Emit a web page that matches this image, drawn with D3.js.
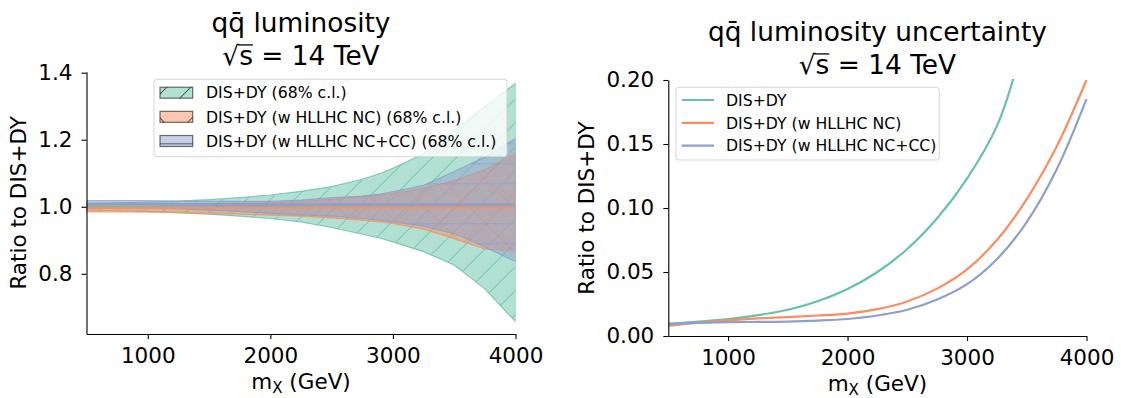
<!DOCTYPE html>
<html>
<head>
<meta charset="utf-8">
<script src="https://cdn.jsdelivr.net/npm/d3@7/dist/d3.min.js"></script>
<style>
  html, body { margin: 0; padding: 0; background: #fff; }
  svg text { font-family: "DejaVu Sans", sans-serif; fill: #000; }
</style>
</head>
<body>
<svg id="fig" width="1121" height="398"></svg>
<script>
// ---------- data ----------
// invariant mass grid (GeV) for the luminosity ratio bands
const massBand = [500, 750, 1000, 1250, 1500, 1750, 2000, 2250, 2500, 2750, 2900, 3000, 3250, 3500, 3750, 4000];

// DIS+DY 68% c.l. band, ratio to DIS+DY central
const disUpper = [1.010, 1.012, 1.014, 1.017, 1.021, 1.027, 1.035, 1.046, 1.060, 1.082, 1.100, 1.115, 1.158, 1.229, 1.299, 1.368];
const disLower = [0.990, 0.988, 0.986, 0.982, 0.978, 0.972, 0.965, 0.955, 0.938, 0.918, 0.906, 0.895, 0.866, 0.826, 0.755, 0.657];

// DIS+DY (w HLLHC NC)
const ncCentral = [0.996, 0.996, 0.997, 0.997, 0.997, 0.998, 0.998, 0.998, 0.998, 0.998, 0.998, 0.998, 0.998, 0.998, 0.998, 0.998];
const ncUpper   = [1.006, 1.007, 1.008, 1.009, 1.010, 1.011, 1.012, 1.015, 1.022, 1.030, 1.036, 1.040, 1.055, 1.078, 1.110, 1.160];
const ncLower   = [0.985, 0.985, 0.984, 0.983, 0.981, 0.978, 0.975, 0.972, 0.967, 0.960, 0.955, 0.950, 0.933, 0.905, 0.874, 0.868];

// DIS+DY (w HLLHC NC+CC)
const nccCentral = [1.008, 1.008, 1.008, 1.007, 1.007, 1.006, 1.006, 1.006, 1.005, 1.005, 1.005, 1.005, 1.005, 1.005, 1.005, 1.005];
const nccUpper   = [1.018, 1.018, 1.018, 1.017, 1.017, 1.016, 1.016, 1.020, 1.027, 1.032, 1.038, 1.045, 1.064, 1.105, 1.148, 1.204];
const nccLower   = [0.998, 0.997, 0.996, 0.994, 0.990, 0.986, 0.980, 0.976, 0.972, 0.965, 0.960, 0.955, 0.942, 0.920, 0.880, 0.836];

// relative luminosity uncertainty
const massUnc = [500, 750, 1000, 1250, 1500, 1750, 2000, 2250, 2500, 2750, 3000, 3250, 3500, 3750, 4000];
const massUncDis = [500, 750, 1000, 1250, 1500, 1750, 2000, 2250, 2500, 2750, 3000, 3250, 3400];
const uncDis = [0.0094, 0.0112, 0.0133, 0.0163, 0.0205, 0.0272, 0.0367, 0.0500, 0.0680, 0.0920, 0.1230, 0.1640, 0.2050];
const uncNC  = [0.0080, 0.0105, 0.0122, 0.0137, 0.0148, 0.0160, 0.0175, 0.0210, 0.0270, 0.0370, 0.0520, 0.0750, 0.1070, 0.1480, 0.2000];
const uncNCC = [0.0094, 0.0102, 0.0108, 0.0110, 0.0112, 0.0120, 0.0133, 0.0160, 0.0205, 0.0285, 0.0405, 0.0600, 0.0890, 0.1300, 0.1850];

const xTicks = [1000, 2000, 3000, 4000];
const yTicksRatio = [0.8, 1.0, 1.2, 1.4];
const yTicksUnc = [0.00, 0.05, 0.10, 0.15, 0.20];

const seriesLabelsBand = ["DIS+DY (68% c.l.)", "DIS+DY (w HLLHC NC) (68% c.l.)", "DIS+DY (w HLLHC NC+CC) (68% c.l.)"];
const seriesLabelsUnc = ["DIS+DY", "DIS+DY (w HLLHC NC)", "DIS+DY (w HLLHC NC+CC)"];
const colors = ["#66c2a5", "#fc8d62", "#8da0cb"];

// ---------- layout ----------
const svg = d3.select("#fig");
const TICK_FS = 21.5, LABEL_FS = 21.5, TITLE_FS = 26.4, LEG_FS = 15.7;

const L = { x0: 86.5, x1: 515.5, yTop: 71.7, yBot: 334 };
const R = { x0: 668.3, x1: 1086.5, yTop: 80, yBot: 336 };

const xL = d3.scaleLinear().domain([500, 4000]).range([L.x0, L.x1]);
const yL = d3.scaleLinear().domain([0.6203, 1.403]).range([L.yBot, L.yTop]);
const xR = d3.scaleLinear().domain([500, 4000]).range([R.x0, R.x1]);
const yR = d3.scaleLinear().domain([0, 0.2]).range([R.yBot, R.yTop]);

// ---------- hatch patterns ----------
const defs = svg.append("defs");
function diagPattern(id, size, color, opacity, both) {
  const p = defs.append("pattern").attr("id", id).attr("patternUnits", "userSpaceOnUse")
    .attr("width", size).attr("height", size).attr("y", 398 % size);
  const g = p.append("g").attr("stroke", color).attr("stroke-opacity", opacity).attr("stroke-width", 1.1);
  g.append("line").attr("x1", -1).attr("y1", size + 1).attr("x2", size + 1).attr("y2", -1);
  g.append("line").attr("x1", -1).attr("y1", 1).attr("x2", 1).attr("y2", -1);
  g.append("line").attr("x1", size - 1).attr("y1", size + 1).attr("x2", size + 1).attr("y2", size - 1);
  if (both) {
    g.append("line").attr("x1", -1).attr("y1", -1).attr("x2", size + 1).attr("y2", size + 1);
    g.append("line").attr("x1", size - 1).attr("y1", -1).attr("x2", size + 1).attr("y2", 1);
    g.append("line").attr("x1", -1).attr("y1", size - 1).attr("x2", 1).attr("y2", size + 1);
  }
}
function horizPattern(id, size, color, opacity) {
  const p = defs.append("pattern").attr("id", id).attr("patternUnits", "userSpaceOnUse")
    .attr("width", size).attr("height", size).attr("y", 3.3);
  p.append("line").attr("x1", 0).attr("x2", size).attr("y1", 0.5).attr("y2", 0.5)
    .attr("stroke", color).attr("stroke-opacity", opacity).attr("stroke-width", 1.1);
}
diagPattern("hatchDis", 24, colors[0], 0.75, false);
diagPattern("hatchNC", 44, colors[1], 0.75, true);
horizPattern("hatchNCC", 20, colors[2], 0.75);
diagPattern("hatchDisLeg", 24, "#000", 0.55, false);
diagPattern("hatchNCLeg", 44, "#000", 0.55, true);
horizPattern("hatchNCCLeg", 20, "#000", 0.55);

defs.append("clipPath").attr("id", "clipL").append("rect")
  .attr("x", L.x0).attr("y", L.yTop).attr("width", L.x1 - L.x0).attr("height", L.yBot - L.yTop);
defs.append("clipPath").attr("id", "clipR").append("rect")
  .attr("x", R.x0).attr("y", R.yTop - 1).attr("width", R.x1 - R.x0 + 2).attr("height", R.yBot - R.yTop + 1);

// ---------- left panel: ratio bands ----------
const gL = svg.append("g").attr("clip-path", "url(#clipL)");
const bands = [
  { up: disUpper, lo: disLower, hatch: "hatchDis", color: colors[0] },
  { up: ncUpper, lo: ncLower, hatch: "hatchNC", color: colors[1] },
  { up: nccUpper, lo: nccLower, hatch: "hatchNCC", color: colors[2] }
];
bands.forEach(b => {
  const pts = massBand.map((m, i) => ({ m, up: b.up[i], lo: b.lo[i] }));
  const area = d3.area().x(d => xL(d.m)).y0(d => yL(d.lo)).y1(d => yL(d.up));
  gL.append("path").datum(pts).attr("d", area).attr("fill", b.color).attr("fill-opacity", 0.5)
    .attr("stroke", b.color).attr("stroke-opacity", 0.8).attr("stroke-width", 1.2);
  gL.append("path").datum(pts).attr("d", area).attr("fill", `url(#${b.hatch})`);
});
const centralLine = d3.line().x(d => xL(d[0])).y(d => yL(d[1]));
gL.append("path").datum(massBand.map((m, i) => [m, 1.0]))
  .attr("d", centralLine).attr("fill", "none").attr("stroke", colors[0]).attr("stroke-width", 2);
gL.append("path").datum(massBand.map((m, i) => [m, nccCentral[i]]))
  .attr("d", centralLine).attr("fill", "none").attr("stroke", colors[2]).attr("stroke-width", 2.6);
gL.append("path").datum(massBand.map((m, i) => [m, ncCentral[i]]))
  .attr("d", centralLine).attr("fill", "none").attr("stroke", colors[1]).attr("stroke-width", 2);

// ---------- right panel: uncertainty curves ----------
const gR = svg.append("g").attr("clip-path", "url(#clipR)");
const uncLine = d3.line().curve(d3.curveCatmullRom.alpha(0.5)).x(d => xR(d[0])).y(d => yR(d[1]));
[
  { m: massUncDis, v: uncDis, c: colors[0] },
  { m: massUnc, v: uncNC, c: colors[1] },
  { m: massUnc, v: uncNCC, c: colors[2] }
].forEach(s => {
  gR.append("path").datum(s.m.map((m, i) => [m, s.v[i]])).attr("d", uncLine)
    .attr("fill", "none").attr("stroke", s.c).attr("stroke-width", 2.2);
});

// ---------- axes ----------
function styleAxis(g) {
  g.selectAll("path.domain").attr("stroke", "#000").attr("stroke-width", 1.1);
  g.selectAll(".tick line").attr("stroke", "#000").attr("stroke-width", 1.1);
  g.selectAll(".tick text").attr("font-family", "DejaVu Sans").attr("font-size", TICK_FS).attr("fill", "#000");
}
svg.append("g").attr("transform", `translate(0,${L.yBot})`)
  .call(d3.axisBottom(xL).tickValues(xTicks).tickFormat(d3.format("d")).tickSize(5).tickSizeOuter(0).tickPadding(9))
  .call(styleAxis);
svg.append("g").attr("transform", `translate(${L.x0},0)`)
  .call(d3.axisLeft(yL).tickValues(yTicksRatio).tickFormat(d3.format(".1f")).tickSize(5).tickSizeOuter(0).tickPadding(9))
  .call(styleAxis);
svg.append("g").attr("transform", `translate(0,${R.yBot})`)
  .call(d3.axisBottom(xR).tickValues(xTicks).tickFormat(d3.format("d")).tickSize(5).tickSizeOuter(0).tickPadding(9))
  .call(styleAxis);
svg.append("g").attr("transform", `translate(${R.x0},0)`)
  .call(d3.axisLeft(yR).tickValues(yTicksUnc).tickFormat(d3.format(".2f")).tickSize(5).tickSizeOuter(0).tickPadding(9))
  .call(styleAxis);

// axis labels
function xLabel(cx, y) {
  const t = svg.append("text").attr("x", cx).attr("y", y).attr("text-anchor", "middle").attr("font-size", LABEL_FS);
  t.append("tspan").text("m");
  t.append("tspan").attr("font-size", LABEL_FS * 0.7).attr("dy", 4).text("X");
  t.append("tspan").attr("dy", -4).text(" (GeV)");
}
xLabel((L.x0 + L.x1) / 2, 389);
xLabel((R.x0 + R.x1) / 2, 391);
svg.append("text").attr("transform", `translate(25.5,${(L.yTop + L.yBot) / 2}) rotate(-90)`)
  .attr("text-anchor", "middle").attr("font-size", LABEL_FS).text("Ratio to DIS+DY");
svg.append("text").attr("transform", `translate(593.5,${(R.yTop + R.yBot) / 2}) rotate(-90)`)
  .attr("text-anchor", "middle").attr("font-size", LABEL_FS).text("Ratio to DIS+DY");

// titles: "q q-bar ..." on the first line, "sqrt(s) = 14 TeV" on the second
function title(cx, y1, y2, head) {
  const t1 = svg.append("text").attr("x", cx).attr("y", y1).attr("text-anchor", "middle").attr("font-size", TITLE_FS);
  t1.append("tspan").text("q");
  t1.append("tspan").text("q\u0304");
  t1.append("tspan").text(head);
  const t2 = svg.append("text").attr("x", cx).attr("y", y2).attr("text-anchor", "middle").attr("font-size", TITLE_FS);
  t2.append("tspan").text("\u221A");
  t2.append("tspan").text("s");
  t2.append("tspan").text(" = 14 TeV");
  const node = t2.node();
  const full = node.getComputedTextLength();
  const left = cx - full / 2;
  const rootW = node.getSubStringLength(0, 1);
  const sW = node.getSubStringLength(1, 1);
  svg.append("line").attr("x1", left + rootW - 1).attr("x2", left + rootW + sW)
    .attr("y1", y2 - TITLE_FS * 0.76).attr("y2", y2 - TITLE_FS * 0.76)
    .attr("stroke", "#000").attr("stroke-width", 1.3);
}
title((L.x0 + L.x1) / 2, 32, 65, " luminosity");
title((R.x0 + R.x1) / 2, 41, 74, " luminosity uncertainty");

// ---------- legends ----------
// left: hatched patches
svg.append("rect").attr("x", 154).attr("y", 79.3).attr("width", 353).attr("height", 77.4).attr("rx", 3)
  .attr("fill", "#fff").attr("fill-opacity", 0.8).attr("stroke", "#cccccc").attr("stroke-opacity", 0.8);
const legHatch = ["hatchDisLeg", "hatchNCLeg", "hatchNCCLeg"];
seriesLabelsBand.forEach((lab, i) => {
  const cy = 92.7 + i * 24.15;
  svg.append("rect").attr("x", 160).attr("y", cy - 5.5).attr("width", 32.7).attr("height", 11)
    .attr("fill", colors[i]).attr("fill-opacity", 0.5);
  svg.append("rect").attr("x", 160).attr("y", cy - 5.5).attr("width", 32.7).attr("height", 11)
    .attr("fill", `url(#${legHatch[i]})`).attr("stroke", "#000").attr("stroke-opacity", 0.55).attr("stroke-width", 1.2);
  svg.append("text").attr("x", 206).attr("y", cy + LEG_FS * 0.36).attr("font-size", LEG_FS).text(lab);
});
// right: line handles
svg.append("rect").attr("x", 676).attr("y", 87.3).attr("width", 263.3).attr("height", 72.7).attr("rx", 3)
  .attr("fill", "#fff").attr("fill-opacity", 0.8).attr("stroke", "#cccccc").attr("stroke-opacity", 0.8);
seriesLabelsUnc.forEach((lab, i) => {
  const cy = 100 + i * 22.85;
  svg.append("line").attr("x1", 681.7).attr("x2", 714).attr("y1", cy).attr("y2", cy)
    .attr("stroke", colors[i]).attr("stroke-width", 2.2);
  svg.append("text").attr("x", 726).attr("y", cy + LEG_FS * 0.36).attr("font-size", LEG_FS).text(lab);
});
</script>
</body>
</html>
